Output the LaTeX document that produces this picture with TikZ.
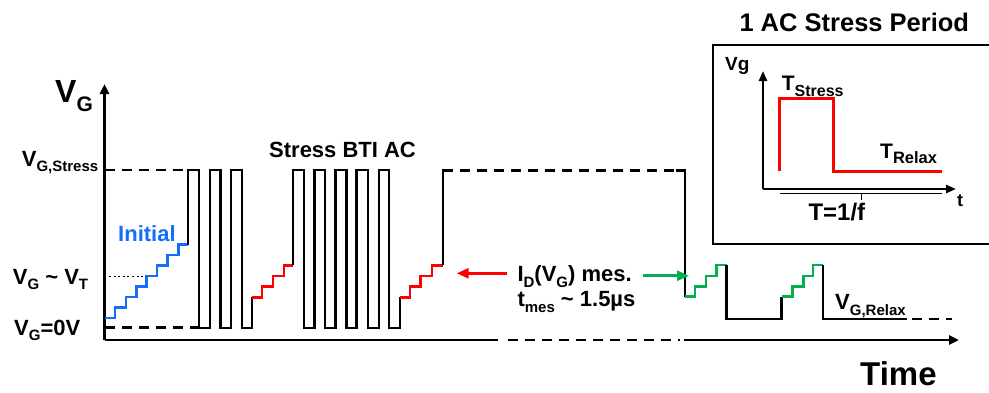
\documentclass[tikz,border=0pt]{standalone}
\usepackage{fontspec}
\setmainfont{Liberation Sans}
\usetikzlibrary{arrows.meta}
\definecolor{myblue}{RGB}{20,110,250}
\definecolor{mygreen}{RGB}{0,176,80}
\definecolor{myred}{RGB}{255,0,0}
\newcommand\lo[2]{\raisebox{-0.27em}{\fontsize{#1}{#1}\selectfont #2}}
\newcommand\fsz[1]{\fontsize{#1}{#1}\selectfont\bfseries}
\newcommand\tld{\char"7E\relax}
\begin{document}
\begin{tikzpicture}[x=1pt,y=-1pt,
  lbl/.style={anchor=base west, inner sep=0pt},
  wave/.style={line width=2.6pt, line join=miter},
  dashln/.style={line width=2.6pt, dash pattern=on 10pt off 7pt},
  axis/.style={line width=2.6pt},
  tipbig/.style={-{Triangle[length=10pt,width=9pt]}},
  tipsmall/.style={-{Triangle[length=10pt,width=8pt]}}]
\useasboundingbox (0,0) rectangle (989,392);

% axes
\coordinate (o) at (104.5,340);
\coordinate (ytop) at (104.5,84);
\coordinate (xa) at (498,340);
\coordinate (xb) at (684,340);
\coordinate (xend) at (959,340);
\draw[axis,tipbig] (o) -- (ytop);
\draw[axis] (o) -- (xa);
\draw[dashln] ([xshift=10pt]xa) -- ([xshift=-4pt]xb);
\draw[axis,tipbig] (xb) -- (xend);

% reference lines
\draw[dashln] (104.5,170) -- (188,170);
\draw[dashln] (104.5,327.7) -- (199,327.7);
\draw[line width=1.7pt, dash pattern=on 2pt off 2.6pt] (109,276.5) -- (146,276.5);

% blue initial staircase
\draw[wave,myblue] (104.5,318) -| (115,307.5) -| (126,297) -| (136.5,286.5) -| (146.5,276) -| (157,265.5) -| (167.5,255) -| (178.5,244.5) -- (188,244.5);

% first pulse group
\draw[wave] (188,244.5) -- (188,170) -- (199,170) -- (199,328) -- (210,328) -- (210,170) -- (220.7,170) -- (220.7,328) -- (231,328) -- (231,170) -- (242,170) -- (242,328) -- (252,328) -- (252,297.3);
\draw[wave,myred] (252,297.3) -| (262,286.7) -| (273,276) -| (284,265.3) -- (293,265.3);

% second pulse group
\draw[wave] (293,265.3) -- (293,170) -- (304,170) -- (304,328) -- (314.3,328) -- (314.3,170) -- (325,170) -- (325,328) -- (335.7,328) -- (335.7,170) -- (346.7,170) -- (346.7,328) -- (356.7,328) -- (356.7,170) -- (368,170) -- (368,328) -- (379,328) -- (379,170) -- (389,170) -- (389,328) -- (400,328) -- (400,297.3);
\draw[wave,myred] (400,297.3) -| (410,286.7) -| (420.7,276) -| (432,265.3) -- (443,265.3);

% long stress
\draw[wave] (443,265.3) -- (443,170.7) -- (453,170.7);
\draw[dashln] (460,170.7) -- (676,170.7);
\draw[wave] (676,170.7) -- (685,170.7) -- (685,296.7);
\draw[wave,mygreen] (685,296.7) -| (695,286.7) -| (706,276) -| (716.7,265) -- (726.7,265);
\draw[wave] (726.7,265) -- (726.7,319) -- (781.7,319) -- (781.7,296.7);
\draw[wave,mygreen] (781.7,296.7) -| (792.7,286.7) -| (803.3,276) -| (813,265) -- (823,265);
\draw[wave] (823,265) -- (823,319) -- (907,319);
\draw[dashln] (912,319) -- (952,319);

% labels
\node[lbl] (vg) at (55,102.7) {\fsz{32}V\lo{21}{G}};
\node[lbl] (vgs) at (21.7,166) {\fsz{22}V\lo{15}{G,Stress}};
\node[lbl] (vgt) at (12.7,284) {\fsz{22}V\lo{15}{G} \tld{} V\lo{15}{T}};
\node[lbl] (vg0) at (14,335) {\fsz{22}V\lo{15}{G}=0V};
\node[lbl] (sbti) at (269,157.3) {\fsz{22}Stress BTI AC};
\node[lbl,text=myblue] (init) at (118,241.7) {\fsz{22}Initial};
\node[lbl] (idm) at (517.3,281.7) {\fsz{22}I\lo{15}{D}(V\lo{15}{G}) mes.};
\node[lbl] (tmes) at (517.3,306.7) {\fsz{22}t\lo{15}{mes} \tld{} 1.5µs};
\node[lbl] (vgr) at (835,309.3) {\fsz{22}V\lo{15}{G,Relax}};
\node[lbl] (time) at (860,385) {\fsz{33}Time};

% measurement arrows
\coordinate (ra1) at (506.7,273.3);
\coordinate (ra2) at (456.7,273.3);
\coordinate (ga1) at (643,275.7);
\coordinate (ga2) at (689,275.7);
\draw[myred,line width=2.6pt,-{Triangle[length=12pt,width=10pt]}] (ra1) -- (ra2);
\draw[mygreen,line width=2.6pt,-{Triangle[length=12pt,width=10pt]}] (ga1) -- (ga2);

% inset
\node[lbl] (title) at (739.3,31.7) {\fsz{25.5}1 AC Stress Period};
\draw[line width=2.2pt] (991,45) -- (713,45) -- (713,244) -- (991,244);
\coordinate (io) at (763,189);
\coordinate (iy) at (763,71);
\coordinate (ix) at (956,189);
\draw[line width=2.6pt,tipsmall] (io) -- (iy);
\draw[line width=2.6pt,tipsmall] (io) -- (ix);
\draw[myred,line width=3pt,line join=miter] (779,171) -- (779,98.3) -- (833.3,98.3) -- (833.3,171) -- (942.3,171);
\draw[line width=1pt] (780,193.3) -- (942,193.3);
\draw[line width=1pt] (861,193.3) -- (861,200);
\node[lbl] (ivg) at (725,70.7) {\fsz{19}Vg};
\node[lbl] (it) at (957,206.7) {\fsz{18}t};
\node[lbl] (ts) at (781.7,90.7) {\fsz{21}T\lo{16}{Stress}};
\node[lbl] (tr) at (880,158.3) {\fsz{21}T\lo{16.5}{Relax}};
\node[lbl] (tf) at (808.3,220.7) {\fsz{24}T=1/f};
\end{tikzpicture}
\end{document}
